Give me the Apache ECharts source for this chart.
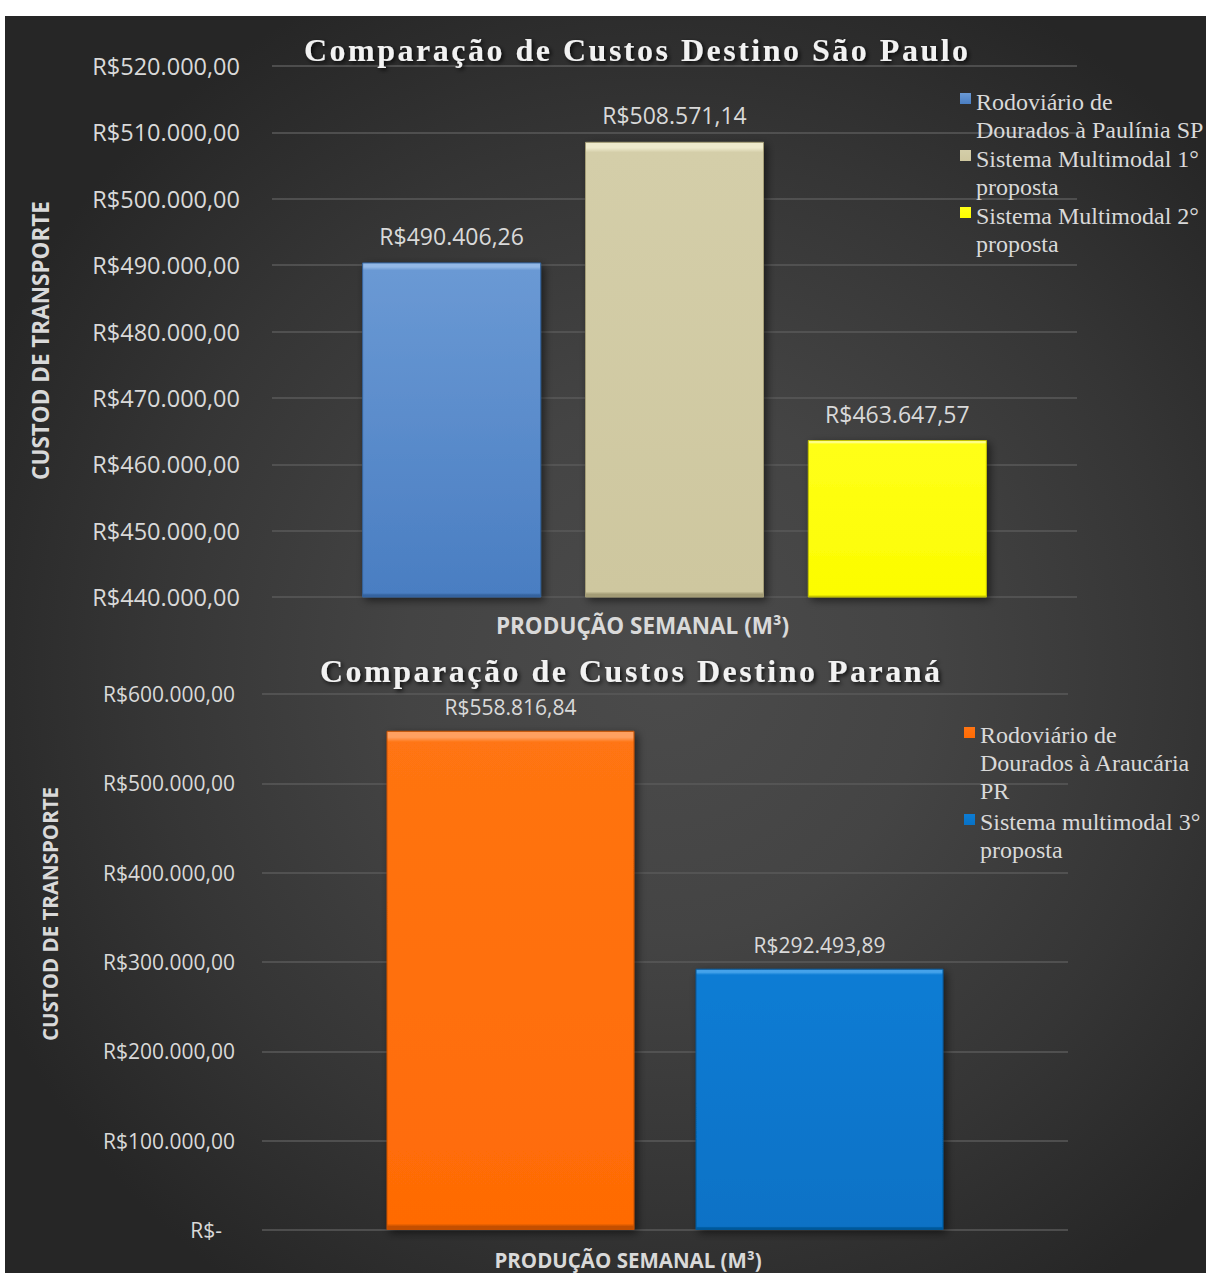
<!DOCTYPE html>
<html>
<head>
<meta charset="utf-8">
<script src="https://cdn.jsdelivr.net/npm/echarts@6/dist/echarts.min.js"></script>
<style>
html,body{margin:0;padding:0;background:#ffffff;width:1206px;height:1273px;overflow:hidden}
#bg{position:absolute;left:5px;top:16px;width:1201px;height:1257px;
  background:radial-gradient(ellipse 62% 60% at 55% 52%, #4b4b4b 0%, #444444 35%, #353535 70%, #262626 100%);}
#chart{position:absolute;left:0;top:0;width:1206px;height:1273px}
#chart svg text[style*="Tinos"]{letter-spacing:2.5px}
</style>
</head>
<body>
<div id="bg"></div>
<div id="chart"></div>
<script>
// ---------- data ----------
const categories = [''];
const spTitle = 'Comparação de Custos Destino São Paulo';
const prTitle = 'Comparação de Custos Destino Paraná';
const yAxisName = 'CUSTOD DE TRANSPORTE';
const xAxisName = 'PRODUÇÃO SEMANAL (M³)';

const spNames = ['Rodoviário de Dourados à Paulínia SP', 'Sistema Multimodal 1° proposta', 'Sistema Multimodal 2° proposta'];
const spLegend = ['Rodoviário de\nDourados à Paulínia SP', 'Sistema Multimodal 1°\nproposta', 'Sistema Multimodal 2°\nproposta'];
const spValues = [490406.26, 508571.14, 463647.57];
const spTicks = [440000, 450000, 460000, 470000, 480000, 490000, 500000, 510000, 520000];

const prNames = ['Rodoviário de Dourados à Araucária PR', 'Sistema multimodal 3° proposta'];
const prLegend = ['Rodoviário de\nDourados à Araucária\nPR', 'Sistema multimodal 3°\nproposta\n'];
const prValues = [558816.84, 292493.89];
const prTicks = [0, 100000, 200000, 300000, 400000, 500000, 600000];

// ---------- styles ----------
const spColors = [
  {light:'#93b8e6', top:'#6a99d4', bottom:'#4a7ec2', dark:'#34649f'},
  {light:'#eeeacc', top:'#d4cea9', bottom:'#cec79f', dark:'#a39c76'},
  {light:'#ffff8a', top:'#ffff18', bottom:'#fcfc00', dark:'#c4c400'}
];
const prColors = [
  {light:'#ffa060', top:'#ff7412', bottom:'#ff6b05', dark:'#c45000'},
  {light:'#45a2ea', top:'#0c7cd4', bottom:'#0872c6', dark:'#05589a'}
];
const txt = '#d9d9d9';
const sans = "'Open Sans', sans-serif";

function brl(v) {
  if (v === 0) return 'R$-';
  const parts = Number(v).toFixed(2).split('.');
  const ip = parts[0].replace(/\B(?=(\d{3})+(?!\d))/g, '.');
  return 'R$' + ip + ',' + parts[1];
}
function barStyle(c) {
  return {
    color: {type:'linear', x:0, y:0, x2:0, y2:1, colorStops:[
      {offset:0, color:c.light}, {offset:0.012, color:c.light}, {offset:0.022, color:c.top},
      {offset:0.988, color:c.bottom}, {offset:0.994, color:c.dark}, {offset:1, color:c.dark}]},
    borderColor: c.dark, borderWidth: 1,
    shadowBlur: 8, shadowColor: 'rgba(0,0,0,0.55)', shadowOffsetX: 3, shadowOffsetY: 3
  };
}
const titleStyle = (fs) => ({
  fontFamily: "'Liberation Serif', Tinos, serif", fontWeight: 'bold', fontSize: fs, color: '#f2f2f2',
  textShadowColor: 'rgba(0,0,0,0.8)', textShadowBlur: 4, textShadowOffsetX: 2, textShadowOffsetY: 2
});
const legendText = {fontFamily: "'Liberation Serif', serif", fontSize: 24, color: txt, lineHeight: 28};

const chart = echarts.init(document.getElementById('chart'), null, {renderer: 'svg'});

const series = [];
spNames.forEach((n, i) => series.push({
  type: 'bar', name: n, xAxisIndex: 0, yAxisIndex: 0, data: [spValues[i]],
  barWidth: 179, barGap: '24.5%', itemStyle: barStyle(spColors[i]),
  label: {show: true, position: 'top', distance: 15, formatter: p => brl(p.value), color: txt, fontSize: 23, fontFamily: sans},
  emphasis: {disabled: true}
}));
prNames.forEach((n, i) => series.push({
  type: 'bar', name: n, xAxisIndex: 1, yAxisIndex: 1, data: [prValues[i]],
  barWidth: 248, barGap: '24.6%', itemStyle: barStyle(prColors[i]),
  label: {show: true, position: 'top', distance: 13, formatter: p => brl(p.value), color: txt, fontSize: 21, fontFamily: sans},
  emphasis: {disabled: true}
}));

const splitLine = {show: true, lineStyle: {color: '#5a5a5a', width: 1.5}};

chart.setOption({
  animation: false,
  backgroundColor: 'transparent',
  title: [
    {text: spTitle, left: 304, top: 34, padding: 0, textStyle: titleStyle(32)},
    {text: prTitle, left: 320, top: 655, padding: 0, textStyle: titleStyle(32)}
  ],
  legend: [
    {
      data: spNames.map(n => ({name: n, icon: 'path://M0,0M0,56M0,5H11V16H0Z'})),
      orient: 'vertical', left: 960, top: 88, padding: 0, itemWidth: 11, itemHeight: 56, itemGap: 1,
      selectedMode: false, formatter: n => spLegend[spNames.indexOf(n)], textStyle: legendText,
      itemStyle: {borderWidth: 0, shadowBlur: 0, shadowOffsetX: 0, shadowOffsetY: 0}
    },
    {
      data: prNames.map(n => ({name: n, icon: 'path://M0,0M0,84M0,6H11V17H0Z'})),
      orient: 'vertical', left: 964, top: 721, padding: 0, itemWidth: 11, itemHeight: 84, itemGap: 3,
      selectedMode: false, formatter: n => prLegend[prNames.indexOf(n)], textStyle: legendText,
      itemStyle: {borderWidth: 0, shadowBlur: 0, shadowOffsetX: 0, shadowOffsetY: 0}
    }
  ],
  grid: [
    {left: 272, top: 66, width: 805, height: 531},
    {left: 262, top: 694, width: 806, height: 536}
  ],
  xAxis: [
    {type: 'category', gridIndex: 0, data: categories, axisLine: {show: false}, axisTick: {show: false}, axisLabel: {show: false},
     name: xAxisName, nameLocation: 'middle', nameGap: 17,
     nameTextStyle: {fontFamily: sans, fontWeight: 'bold', fontSize: 22.5, color: txt, padding: [0, 64, 0, 0]}},
    {type: 'category', gridIndex: 1, data: categories, axisLine: {show: false}, axisTick: {show: false}, axisLabel: {show: false},
     name: xAxisName, nameLocation: 'middle', nameGap: 19,
     nameTextStyle: {fontFamily: sans, fontWeight: 'bold', fontSize: 20.5, color: txt, padding: [0, 74, 0, 0]}}
  ],
  yAxis: [
    {type: 'value', gridIndex: 0, min: spTicks[0], max: spTicks[spTicks.length - 1], interval: spTicks[1] - spTicks[0],
     axisLine: {show: false}, axisTick: {show: false}, splitLine: splitLine,
     axisLabel: {formatter: v => brl(v), color: txt, fontSize: 23.5, fontFamily: sans, margin: 32},
     name: yAxisName, nameLocation: 'middle', nameGap: 220,
     nameTextStyle: {fontFamily: sans, fontWeight: 'bold', fontSize: 22.5, color: txt, padding: [0, 18, 0, 0]}},
    {type: 'value', gridIndex: 1, min: prTicks[0], max: prTicks[prTicks.length - 1], interval: prTicks[1] - prTicks[0],
     axisLine: {show: false}, axisTick: {show: false}, splitLine: splitLine,
     axisLabel: {formatter: v => v === 0 ? '{z|' + brl(v) + '}' : brl(v), color: txt, fontSize: 21, fontFamily: sans, margin: 27,
       rich: {z: {color: txt, fontSize: 21, fontFamily: sans, padding: [0, 13, 0, 0]}}},
     name: yAxisName, nameLocation: 'middle', nameGap: 202,
     nameTextStyle: {fontFamily: sans, fontWeight: 'bold', fontSize: 20.5, color: txt, padding: [0, 0, 0, 96]}}
  ],
  series: series
});
</script>
</body>
</html>
